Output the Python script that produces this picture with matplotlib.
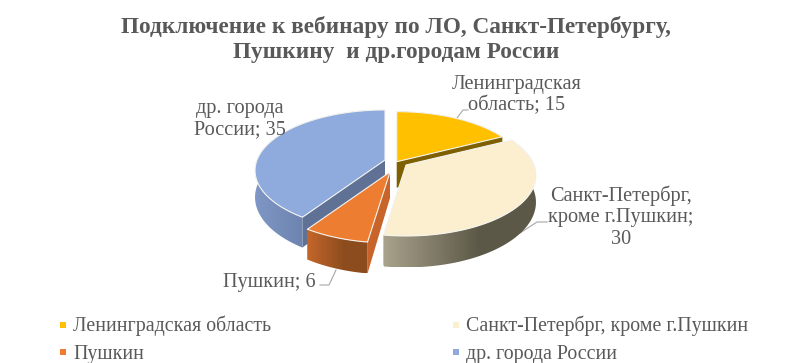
import numpy as np
import matplotlib
matplotlib.use("Agg")
import matplotlib.pyplot as plt
from matplotlib.colors import to_rgb
from matplotlib.patches import Polygon
from matplotlib.lines import Line2D

plt.rcParams['font.family'] = ['Liberation Serif', 'DejaVu Serif']

# ---- data ----
categories = ['Ленинградская область', 'Санкт-Петербрг, кроме г.Пушкин', 'Пушкин', 'др. города России']
values = [15, 30, 6, 35]
title = 'Подключение к вебинару по ЛО, Санкт-Петербургу,\nПушкину  и др.городам России'
label_texts = ['Ленинградская\nобласть; 15', 'Санкт-Петербрг,\nкроме г.Пушкин;\n30', 'Пушкин; 6', 'др. города\nРоссии; 35']

# ---- style and layout (pixel space of the 791x363 figure) ----
top_colors = ['#FFC000', '#FBEFCF', '#ED7D31', '#8FAADC']
edge_wall_colors = ['#7F6000', '#8a8672', '#C8642A', '#5F7296']
rim_left = ['#A07800', '#A8A28C', '#C4662B', '#7F97C6']
rim_right = ['#7F6000', '#5C5847', '#8C4C1E', '#62779F']
centers = [(396.7, 161.7), (406.0, 165.0), (390.0, 172.0), (385.0, 160.0)]
draw_order = [0, 3, 2, 1]
RX, RY, PERSP, DEPTH = 128.0, 58.7, 0.173, 26.0
TEXT = '#595959'
LEADER = '#A6A6A6'

fig = plt.figure(figsize=(7.91, 3.63), dpi=100)
ax = fig.add_axes([0, 0, 1, 1])
ax.axis('off')


def project(theta, center, radius=1.0, drop=0.0):
    """Pie angle (clockwise from the top) to figure pixels, with perspective."""
    u, v = radius * np.sin(theta), radius * np.cos(theta)
    s = 1.0 / (1.0 + PERSP * v)
    return center[0] + RX * u * s, center[1] - RY * v * s + drop * s


total = sum(values)
edges = np.cumsum([0] + values) / total * 2 * np.pi

for i in draw_order:
    start, end, c = edges[i], edges[i + 1], centers[i]
    th = np.linspace(start, end, 120)
    z = 2 + draw_order.index(i)
    # radial walls
    for edge_angle in (start, end):
        rx_, ry_ = project(edge_angle, c)
        bx_, by_ = project(edge_angle, c, drop=DEPTH)
        ax.fill([c[0], rx_, bx_, c[0]], [c[1], ry_, by_, c[1] + DEPTH],
                color=edge_wall_colors[i], lw=0, zorder=z)
    # curved rim: horizontal gradient clipped to the rim outline
    xt, yt = project(th, c)
    xb, yb = project(th, c, drop=DEPTH)
    rim = Polygon(np.c_[np.r_[xt, xb[::-1]], np.r_[yt, yb[::-1]]], closed=True,
                  facecolor='none', edgecolor='none', zorder=z)
    ax.add_patch(rim)
    ramp = np.clip(np.linspace(0, 1.6, 256), 0, 1)[None, :, None]
    grad = np.array(to_rgb(rim_left[i]))[None, None, :] * (1 - ramp) + \
        np.array(to_rgb(rim_right[i]))[None, None, :] * ramp
    im = ax.imshow(grad, extent=[xt.min(), xt.max(), yb.max(), yt.min()], aspect='auto',
                   zorder=z, interpolation='bilinear')
    im.set_clip_path(rim)
    # top face
    ax.fill(np.r_[c[0], xt], np.r_[c[1], yt], facecolor=top_colors[i], edgecolor='#F4F4F0',
            lw=0.8, joinstyle='round', zorder=z)

# leader lines
leaders = [([457, 463, 468], [118, 110, 110]),
           ([520, 537, 547], [233, 222, 222]),
           ([336, 329, 320], [270, 285, 285])]
for lx, ly in leaders:
    ax.plot(lx, ly, color=LEADER, lw=0.8, zorder=1)

ax.set_xlim(0, 791)
ax.set_ylim(363, 0)

# data labels
label_pos = [(517, 95), (621, 217), (269, 283), (240, 119)]
for txt, (x, y) in zip(label_texts, label_pos):
    ax.text(x, y, txt, ha='center', va='center', fontsize=14.6, color=TEXT, linespacing=1.17, zorder=10)

# title
ax.text(396, 39.5, title, ha='center', va='center', fontsize=16.75, fontweight='bold',
        color=TEXT, linespacing=1.2)

# legend: two columns, filled column by column
legend_order = [0, 2, 1, 3]
handles = [Line2D([], [], linestyle='none', marker='s', markersize=4.3,
                  markerfacecolor=top_colors[i], markeredgewidth=0) for i in legend_order]
fig.legend(handles, [categories[i] for i in legend_order], ncol=2, frameon=False,
           loc='upper left', bbox_to_anchor=(58.4 / 791, 1 - 316 / 363), borderaxespad=0, borderpad=0,
           fontsize=14.35, labelcolor=TEXT, handlelength=0.5, handletextpad=0.23,
           columnspacing=9.05, labelspacing=0.42)

fig.savefig('out.png', dpi=100)
